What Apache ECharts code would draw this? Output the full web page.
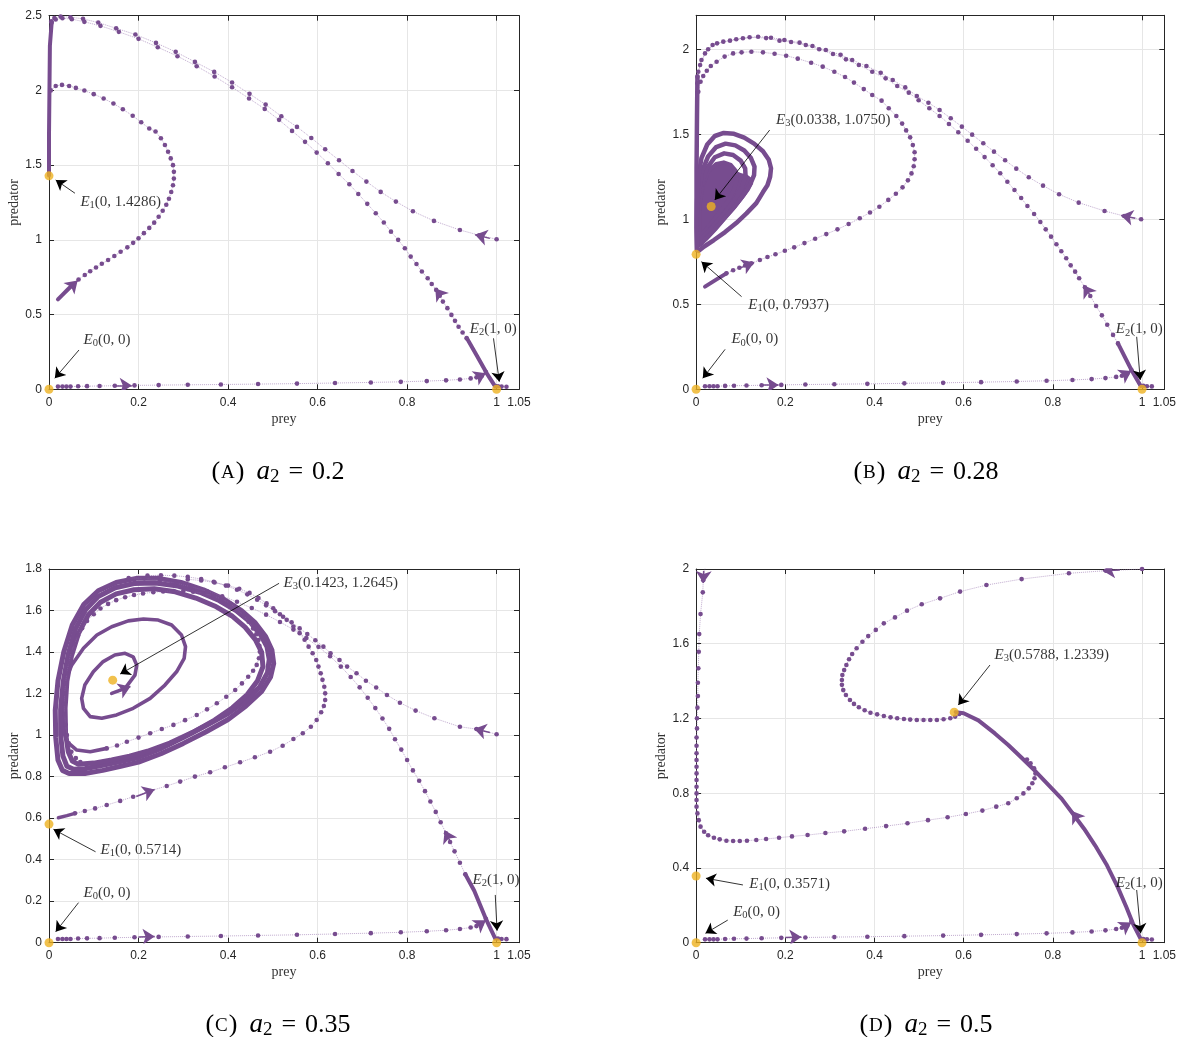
<!DOCTYPE html>
<html><head><meta charset="utf-8">
<script src="https://cdn.jsdelivr.net/npm/echarts@6/dist/echarts.min.js"></script>
<style>html,body{margin:0;padding:0;background:#fff}#c{width:1179px;height:1037px}</style>
</head><body><div id="c"></div>
<script>
// ---------------- DATA ----------------
const xTicks = [0, 0.2, 0.4, 0.6, 0.8, 1, 1.05];
const yMax = [2.5, 2.2, 1.8, 2];
const yStep = [0.5, 0.5, 0.2, 0.4];
const panelTitles = [['A', '0.2'], ['B', '0.28'], ['C', '0.35'], ['D', '0.5']];

// shared: near x-axis trajectory from (0.02,0.02) toward E2
const bottomTraj = [[0.020,0.018],[0.030,0.018],[0.039,0.018],[0.048,0.018],[0.065,0.020],[0.085,0.021],[0.113,0.022],[0.147,0.024],[0.191,0.026],[0.245,0.028],[0.310,0.030],[0.384,0.032],[0.467,0.035],[0.554,0.038],[0.639,0.042],[0.719,0.046],[0.786,0.050],[0.844,0.055],[0.887,0.060],[0.918,0.066],[0.942,0.073],[0.955,0.080],[0.967,0.091],[0.976,0.115]];
const e2Right = [[1.022,0.017],[1.011,0.018],[1.003,0.020]];

// equilibria
const eqA = [[0,0],[0,1.4286],[1,0]];
const eqB = [[0,0],[0,0.7937],[1,0],[0.0338,1.0750]];
const eqC = [[0,0],[0,0.5714],[1,0],[0.1423,1.2645]];
const eqD = [[0,0],[0,0.3571],[1,0],[0.5788,1.2339]];

// ---- panel A ----
const A_outer = [[1.0,1.004],[0.961,1.031],[0.918,1.066],[0.860,1.127],[0.813,1.191],[0.775,1.256],[0.741,1.321],[0.709,1.390],[0.678,1.461],[0.648,1.533],[0.617,1.606],[0.586,1.682],[0.554,1.756],[0.519,1.827],[0.484,1.905],[0.448,1.977],[0.409,2.053],[0.369,2.124],[0.326,2.191],[0.283,2.258],[0.239,2.318],[0.193,2.374],[0.150,2.416],[0.110,2.454],[0.076,2.479],[0.048,2.490],[0.026,2.494],[0.012,2.485],[0.005,2.462]];
const A_manThick = [[0.997,0.018],[0.978,0.107],[0.955,0.230],[0.933,0.345]];
const A_manifold = [[0.933,0.341],[0.924,0.380],[0.915,0.419],[0.907,0.458],[0.899,0.498],[0.890,0.543],[0.880,0.587],[0.873,0.626],[0.865,0.665],[0.855,0.705],[0.846,0.743],[0.833,0.788],[0.821,0.838],[0.808,0.888],[0.795,0.944],[0.780,1.000],[0.764,1.055],[0.748,1.116],[0.730,1.178],[0.711,1.241],[0.691,1.307],[0.671,1.372],[0.647,1.441],[0.623,1.513],[0.598,1.584],[0.572,1.656],[0.543,1.729],[0.514,1.803],[0.482,1.876],[0.447,1.946],[0.409,2.021],[0.370,2.093],[0.330,2.162],[0.287,2.229],[0.243,2.289],[0.200,2.345],[0.156,2.392],[0.115,2.432],[0.079,2.459],[0.051,2.477],[0.030,2.483],[0.015,2.475],[0.006,2.455]];
const A_innerThick = [[0.020,0.602],[0.030,0.632],[0.042,0.668],[0.053,0.700]];
const A_inner = [[0.053,0.700],[0.066,0.735],[0.080,0.765],[0.092,0.790],[0.105,0.815],[0.118,0.840],[0.132,0.865],[0.146,0.892],[0.160,0.920],[0.175,0.950],[0.188,0.980],[0.200,1.010],[0.212,1.045],[0.224,1.080],[0.235,1.115],[0.245,1.155],[0.254,1.195],[0.262,1.235],[0.268,1.275],[0.273,1.320],[0.277,1.365],[0.279,1.410],[0.279,1.455],[0.277,1.500],[0.272,1.545],[0.266,1.590],[0.259,1.635],[0.250,1.680],[0.238,1.725],[0.224,1.745],[0.206,1.787],[0.187,1.830],[0.165,1.874],[0.144,1.912],[0.122,1.946],[0.100,1.975],[0.079,1.999],[0.060,2.017],[0.045,2.030],[0.029,2.037],[0.015,2.030],[0.004,2.000]];
const A_axisThick = [[0.006,2.455],[0.002,2.30],[0.001,2.00],[0.0,1.70],[0.0,1.43]];

// ---- panel B ----
const B_outer = [[0.998,1.000],[0.960,1.019],[0.916,1.049],[0.858,1.098],[0.814,1.147],[0.778,1.198],[0.746,1.247],[0.718,1.298],[0.693,1.347],[0.668,1.398],[0.644,1.447],[0.619,1.498],[0.596,1.545],[0.571,1.594],[0.546,1.643],[0.521,1.686],[0.495,1.725],[0.469,1.776],[0.441,1.819],[0.414,1.862],[0.382,1.902],[0.350,1.937],[0.324,1.968],[0.291,1.996],[0.261,2.019],[0.232,2.039],[0.198,2.055],[0.168,2.068],[0.139,2.074],[0.105,2.065],[0.076,2.051],[0.047,2.035],[0.027,2.000],[0.012,1.937],[0.005,1.868],[0.003,1.800]];
const B_manThick = [[0.997,0.020],[0.975,0.120],[0.946,0.270]];
const B_manifold = [[0.946,0.270],[0.935,0.320],[0.922,0.380],[0.910,0.435],[0.897,0.490],[0.884,0.549],[0.872,0.600],[0.859,0.653],[0.850,0.692],[0.840,0.729],[0.830,0.771],[0.819,0.812],[0.808,0.853],[0.796,0.898],[0.784,0.941],[0.772,0.984],[0.758,1.031],[0.743,1.078],[0.729,1.125],[0.714,1.172],[0.698,1.221],[0.682,1.271],[0.665,1.318],[0.647,1.366],[0.628,1.415],[0.609,1.462],[0.588,1.512],[0.567,1.561],[0.546,1.608],[0.523,1.653],[0.499,1.700],[0.477,1.745],[0.451,1.784],[0.425,1.829],[0.395,1.868],[0.365,1.908],[0.336,1.941],[0.307,1.972],[0.276,2.000],[0.246,2.025],[0.213,2.043],[0.187,2.051],[0.157,2.066],[0.120,2.071],[0.090,2.059],[0.061,2.045],[0.037,2.025],[0.020,1.976],[0.009,1.908],[0.003,1.839]];
const B_innerThick = [[0.020,0.604],[0.045,0.645],[0.068,0.682]];
const B_inner = [[0.068,0.682],[0.083,0.700],[0.097,0.715],[0.110,0.728],[0.124,0.741],[0.143,0.761],[0.160,0.778],[0.178,0.794],[0.199,0.815],[0.220,0.835],[0.243,0.860],[0.267,0.886],[0.292,0.913],[0.317,0.941],[0.342,0.972],[0.367,1.006],[0.390,1.040],[0.411,1.074],[0.431,1.114],[0.448,1.150],[0.463,1.188],[0.475,1.229],[0.483,1.270],[0.488,1.312],[0.490,1.353],[0.490,1.394],[0.486,1.437],[0.480,1.482],[0.471,1.523],[0.462,1.563],[0.449,1.608],[0.432,1.653],[0.416,1.698],[0.395,1.731],[0.376,1.766],[0.354,1.804],[0.334,1.837],[0.310,1.868],[0.284,1.898],[0.258,1.921],[0.228,1.945],[0.202,1.962],[0.176,1.974],[0.150,1.982],[0.124,1.986],[0.102,1.982],[0.083,1.976],[0.064,1.957],[0.046,1.927],[0.033,1.902],[0.024,1.874],[0.016,1.843],[0.010,1.809],[0.005,1.750]];
const B_axisThick = [[0.003,1.84],[0.002,1.60],[0.001,1.30],[0.001,1.00],[0.002,0.82]];
const B_loop1 = [[0.002,0.820],[0.001,0.950],[0.002,1.100],[0.005,1.250],[0.012,1.360],[0.025,1.440],[0.042,1.490],[0.062,1.508],[0.085,1.503],[0.108,1.480],[0.130,1.445],[0.150,1.400],[0.163,1.350],[0.168,1.300],[0.166,1.250],[0.160,1.200],[0.150,1.160],[0.135,1.095],[0.113,1.035],[0.090,0.978],[0.065,0.925],[0.040,0.878],[0.018,0.840],[0.006,0.815]];
const B_loop2 = [[0.004,0.850],[0.003,1.000],[0.006,1.150],[0.013,1.280],[0.027,1.370],[0.045,1.425],[0.066,1.445],[0.088,1.435],[0.108,1.405],[0.123,1.360],[0.131,1.310],[0.130,1.260],[0.122,1.210],[0.108,1.150],[0.088,1.080],[0.065,1.010],[0.042,0.940],[0.022,0.885],[0.008,0.850]];
const B_loop3 = [[0.006,0.880],[0.006,1.050],[0.012,1.200],[0.024,1.300],[0.042,1.365],[0.063,1.388],[0.083,1.378],[0.100,1.345],[0.110,1.300],[0.111,1.250],[0.103,1.190],[0.088,1.120],[0.068,1.050],[0.045,0.980],[0.024,0.915],[0.010,0.880]];
const B_loop4 = [[0.008,0.900],[0.008,1.080],[0.015,1.200],[0.028,1.285],[0.045,1.325],[0.062,1.335],[0.078,1.320],[0.089,1.285],[0.092,1.240],[0.086,1.180],[0.072,1.110],[0.052,1.040],[0.032,0.970],[0.016,0.920],[0.008,0.900]];
const B_fill = [[0.003,0.830],[0.004,1.050],[0.008,1.200],[0.015,1.270],[0.028,1.310],[0.045,1.330],[0.062,1.335],[0.078,1.320],[0.089,1.285],[0.100,1.272],[0.115,1.262],[0.126,1.240],[0.128,1.210],[0.120,1.170],[0.106,1.120],[0.086,1.055],[0.064,0.990],[0.042,0.925],[0.022,0.872],[0.008,0.840]];

// ---- panel C ----
const C_outer = [[1.000,1.004],[0.955,1.029],[0.918,1.040],[0.861,1.081],[0.819,1.118],[0.784,1.156],[0.755,1.193],[0.731,1.229],[0.708,1.262],[0.687,1.298],[0.666,1.330],[0.649,1.362],[0.629,1.394],[0.613,1.426],[0.595,1.457],[0.577,1.487],[0.560,1.514],[0.542,1.543],[0.523,1.570],[0.505,1.597],[0.485,1.625],[0.465,1.652],[0.443,1.678],[0.420,1.700],[0.395,1.720],[0.368,1.738],[0.340,1.752],[0.310,1.762],[0.280,1.768],[0.250,1.770],[0.220,1.768]];
const C_manThick = [[0.997,0.020],[0.975,0.120],[0.950,0.250],[0.930,0.330]];
const C_manifold = [[0.930,0.330],[0.918,0.385],[0.906,0.440],[0.896,0.485],[0.887,0.527],[0.875,0.580],[0.864,0.630],[0.852,0.680],[0.840,0.730],[0.827,0.780],[0.813,0.830],[0.800,0.880],[0.787,0.930],[0.773,0.980],[0.760,1.030],[0.745,1.080],[0.729,1.130],[0.712,1.180],[0.694,1.230],[0.674,1.280],[0.652,1.330],[0.628,1.380],[0.602,1.425],[0.575,1.468],[0.546,1.508],[0.516,1.545],[0.485,1.580],[0.453,1.612],[0.420,1.642],[0.387,1.669],[0.353,1.693],[0.318,1.714],[0.283,1.732],[0.248,1.746],[0.213,1.755],[0.178,1.757]];
const C_midThick = [[0.021,0.602],[0.040,0.612],[0.058,0.623]];
const C_mid = [[0.058,0.623],[0.080,0.634],[0.103,0.647],[0.129,0.663],[0.159,0.683],[0.188,0.703],[0.226,0.731],[0.263,0.755],[0.293,0.776],[0.326,0.800],[0.360,0.821],[0.393,0.845],[0.427,0.869],[0.460,0.893],[0.494,0.920],[0.522,0.949],[0.546,0.981],[0.567,1.009],[0.585,1.040],[0.598,1.073],[0.608,1.110],[0.614,1.140],[0.617,1.169],[0.617,1.201],[0.615,1.233],[0.611,1.266],[0.607,1.298],[0.602,1.330],[0.597,1.362],[0.589,1.394],[0.580,1.426],[0.571,1.459],[0.560,1.491],[0.546,1.523],[0.531,1.555],[0.516,1.582],[0.501,1.611],[0.486,1.635],[0.468,1.660],[0.448,1.685],[0.425,1.705],[0.400,1.720],[0.370,1.735],[0.340,1.745],[0.310,1.750]];
const C_spiralThick = [[0.140,1.201],[0.170,1.225],[0.192,1.289],[0.196,1.337],[0.188,1.377],[0.170,1.394],[0.147,1.386],[0.121,1.354],[0.099,1.305],[0.080,1.241],[0.073,1.177],[0.077,1.129],[0.092,1.089],[0.118,1.081],[0.151,1.097],[0.188,1.129],[0.226,1.177],[0.259,1.241],[0.285,1.305],[0.302,1.370],[0.305,1.426],[0.296,1.482],[0.274,1.530],[0.244,1.554],[0.211,1.559],[0.177,1.550],[0.140,1.522],[0.107,1.482],[0.077,1.418],[0.051,1.338],[0.032,1.241],[0.026,1.145],[0.028,1.049],[0.040,0.968],[0.062,0.928],[0.092,0.920],[0.129,0.936]];
const C_spiralDots = [[0.129,0.936],[0.152,0.950],[0.174,0.968],[0.200,0.988],[0.226,1.009],[0.252,1.029],[0.278,1.049],[0.304,1.072],[0.330,1.097],[0.353,1.124],[0.375,1.153],[0.396,1.185],[0.416,1.217],[0.431,1.249],[0.445,1.281],[0.456,1.310],[0.464,1.338],[0.469,1.370],[0.471,1.402],[0.470,1.430],[0.468,1.458],[0.463,1.486],[0.456,1.514],[0.446,1.546],[0.434,1.578],[0.420,1.607],[0.404,1.635],[0.386,1.655],[0.367,1.671],[0.345,1.683],[0.322,1.691],[0.300,1.694],[0.278,1.694],[0.255,1.692],[0.233,1.688],[0.210,1.682],[0.190,1.675],[0.170,1.664],[0.150,1.650],[0.132,1.632],[0.115,1.610],[0.100,1.582],[0.085,1.550],[0.074,1.515],[0.065,1.480],[0.057,1.440],[0.050,1.400],[0.044,1.350],[0.040,1.300],[0.037,1.250],[0.035,1.200],[0.034,1.150],[0.035,1.100],[0.037,1.050],[0.040,1.000],[0.044,0.960],[0.050,0.920],[0.060,0.890],[0.070,0.870]];
const C_bandOuter = [[0.045,0.815],[0.080,0.815],[0.120,0.830],[0.160,0.850],[0.200,0.870],[0.250,0.910],[0.300,0.960],[0.350,1.015],[0.400,1.075],[0.440,1.140],[0.475,1.210],[0.495,1.280],[0.502,1.345],[0.498,1.410],[0.484,1.475],[0.461,1.540],[0.430,1.600],[0.390,1.655],[0.345,1.700],[0.295,1.735],[0.245,1.755],[0.195,1.755],[0.150,1.735],[0.110,1.695],[0.078,1.630],[0.052,1.530],[0.033,1.400],[0.020,1.260],[0.014,1.120],[0.015,0.990],[0.020,0.880],[0.030,0.830],[0.045,0.815]];
const C_bandMid = [[0.055,0.835],[0.080,0.838],[0.120,0.855],[0.160,0.872],[0.200,0.892],[0.250,0.935],[0.300,0.988],[0.350,1.045],[0.400,1.104],[0.440,1.165],[0.470,1.230],[0.488,1.300],[0.492,1.365],[0.487,1.425],[0.472,1.485],[0.449,1.545],[0.418,1.600],[0.380,1.648],[0.337,1.688],[0.288,1.718],[0.238,1.732],[0.190,1.730],[0.148,1.710],[0.110,1.668],[0.082,1.605],[0.059,1.510],[0.043,1.390],[0.032,1.260],[0.026,1.125],[0.026,1.000],[0.031,0.900],[0.040,0.850],[0.055,0.835]];
const C_bandInner = [[0.065,0.860],[0.100,0.865],[0.140,0.880],[0.180,0.898],[0.220,0.922],[0.270,0.962],[0.320,1.012],[0.370,1.072],[0.410,1.132],[0.443,1.195],[0.466,1.262],[0.478,1.330],[0.475,1.400],[0.461,1.460],[0.438,1.520],[0.408,1.575],[0.370,1.622],[0.328,1.660],[0.282,1.690],[0.235,1.705],[0.190,1.700],[0.150,1.680],[0.115,1.640],[0.088,1.580],[0.066,1.490],[0.050,1.380],[0.040,1.260],[0.036,1.130],[0.037,1.010],[0.043,0.920],[0.052,0.875],[0.065,0.860]];

// ---- panel D ----
const D_top = [[1.000,2.000],[0.919,1.991],[0.836,1.977],[0.730,1.946],[0.651,1.914],[0.592,1.879],[0.547,1.843],[0.506,1.811],[0.473,1.777],[0.446,1.741],[0.421,1.709],[0.403,1.674],[0.386,1.641],[0.373,1.611],[0.360,1.576],[0.350,1.545],[0.343,1.517],[0.337,1.486],[0.332,1.459],[0.328,1.433],[0.327,1.406],[0.327,1.380],[0.330,1.352],[0.336,1.326],[0.345,1.299],[0.354,1.278],[0.365,1.260],[0.378,1.244],[0.391,1.231],[0.406,1.222],[0.421,1.213],[0.436,1.206],[0.451,1.201],[0.466,1.197],[0.480,1.194],[0.495,1.192],[0.510,1.192],[0.525,1.192],[0.540,1.192],[0.555,1.196],[0.570,1.201],[0.581,1.210],[0.590,1.224]];
const D_left = [[0.020,2.003],[0.016,1.940],[0.015,1.875],[0.010,1.759],[0.007,1.652],[0.006,1.557],[0.005,1.469],[0.004,1.391],[0.004,1.320],[0.003,1.258],[0.002,1.201],[0.002,1.147],[0.001,1.098],[0.001,1.054],[0.001,1.014],[0.001,0.978],[0.001,0.942],[0.001,0.906],[0.001,0.871],[0.001,0.835],[0.001,0.799],[0.001,0.764],[0.001,0.728],[0.003,0.692],[0.006,0.656],[0.010,0.621],[0.018,0.594],[0.027,0.575],[0.040,0.562],[0.053,0.553],[0.068,0.546],[0.083,0.544],[0.098,0.544],[0.114,0.546],[0.135,0.550],[0.157,0.555],[0.186,0.562],[0.215,0.569],[0.250,0.576],[0.290,0.587],[0.332,0.596],[0.379,0.610],[0.426,0.624],[0.474,0.639],[0.520,0.656],[0.564,0.671],[0.605,0.689],[0.642,0.707],[0.673,0.728],[0.700,0.746],[0.719,0.773],[0.734,0.799],[0.746,0.826],[0.754,0.853],[0.759,0.880],[0.761,0.906],[0.758,0.933],[0.750,0.960],[0.742,0.980]];
const D_manifold = [[0.997,0.020],[0.980,0.100],[0.965,0.190],[0.945,0.300],[0.920,0.420],[0.895,0.520],[0.870,0.610],[0.845,0.690],[0.820,0.770],[0.790,0.845],[0.760,0.920],[0.730,0.990],[0.700,1.058],[0.670,1.120],[0.633,1.190],[0.600,1.228],[0.582,1.234]];

// annotation arrows (tail -> head) and label anchors
const annA = [[[0.058,1.312],[0.015,1.401]],[[0.067,0.263],[0.013,0.074]],[[0.993,0.341],[1.006,0.051]]];
const annB = [[[0.165,1.525],[0.042,1.114]],[[0.102,0.545],[0.012,0.751]],[[0.065,0.235],[0.015,0.065]],[[0.988,0.309],[0.996,0.055]]];
const annC = [[[0.514,1.731],[0.159,1.294]],[[0.104,0.438],[0.010,0.546]],[[0.066,0.193],[0.015,0.053]],[[0.997,0.230],[1.001,0.058]]];
const annD = [[[0.659,1.486],[0.588,1.272]],[[0.105,0.309],[0.022,0.345]],[[0.071,0.121],[0.021,0.050]],[[0.988,0.282],[0.997,0.050]]];
const labA = [[0.069,1.255,'1','(0, 1.4286)'],[0.076,0.330,'0','(0, 0)'],[0.939,0.404,'2','(1, 0)']];
const labB = [[0.178,1.584,'3','(0.0338, 1.0750)'],[0.116,0.496,'1','(0, 0.7937)'],[0.078,0.294,'0','(0, 0)'],[0.940,0.353,'2','(1, 0)']];
const labC = [[0.523,1.734,'3','(0.1423, 1.2645)'],[0.114,0.447,'1','(0, 0.5714)'],[0.076,0.241,'0','(0, 0)'],[0.945,0.302,'2','(1, 0)']];
const labD = [[0.668,1.540,'3','(0.5788, 1.2339)'],[0.118,0.313,'1','(0, 0.3571)'],[0.082,0.166,'0','(0, 0)'],[0.940,0.321,'2','(1, 0)']];

// direction arrows on trajectories (tail -> head)
const dirA = [[[0.150,0.024],[0.185,0.026]],[[0.030,0.632],[0.064,0.728]],[[0.876,0.625],[0.863,0.675]],[[0.985,1.010],[0.952,1.034]],[[0.958,0.082],[0.976,0.108]]];
const dirB = [[[0.150,0.024],[0.185,0.026]],[[0.095,0.710],[0.130,0.746]],[[0.882,0.560],[0.869,0.612]],[[0.985,1.006],[0.953,1.023]],[[0.958,0.082],[0.976,0.108]]];
const dirC = [[[0.200,0.028],[0.236,0.030]],[[0.195,0.704],[0.236,0.738]],[[0.150,1.206],[0.182,1.234]],[[0.896,0.490],[0.884,0.540]],[[0.985,1.012],[0.950,1.031]],[[0.958,0.082],[0.976,0.108]]];
const dirD = [[[0.200,0.028],[0.236,0.030]],[[0.017,1.990],[0.016,1.925]],[[0.950,1.995],[0.912,1.990]],[[0.856,0.660],[0.843,0.705]],[[0.958,0.082],[0.976,0.108]]];

// ---------------- STYLE / BUILD ----------------
const PURPLE = '#774c8f', DOTLINE = 'rgba(140,100,165,0.55)', ORANGE = '#edb120', AX = '#262626', GRIDC = '#e6e6e6';
const SERIF = "'Liberation Serif','DejaVu Serif',serif", SANS = "'Liberation Sans',Arial,sans-serif";
const gridPos = [
  {left:49, top:15.7, width:470, height:373.6},
  {left:696.1, top:15.3, width:471.1, height:374},
  {left:49, top:569, width:470, height:373.7},
  {left:696.1, top:569, width:471.1, height:373.7}];

const base = (g) => ({xAxisIndex:2*g, yAxisIndex:2*g, silent:true, animation:false});
function dots(data, g){ return Object.assign(base(g), {type:'line', data, symbol:'circle', symbolSize:4.6, itemStyle:{color:PURPLE}, lineStyle:{color:DOTLINE, width:1, type:'dotted'}, z:3}); }
function thick(data, g, w){ return Object.assign(base(g), {type:'line', data, symbol:'none', lineStyle:{color:PURPLE, width:w||4, cap:'round', join:'round'}, z:3}); }
function arrows(segs, g, color, size, width){ return Object.assign(base(g), {type:'lines', coordinateSystem:'cartesian2d', polyline:false, symbol:['none','arrow'], symbolSize:size, lineStyle:{color, width, opacity:1, curveness:0}, data:segs.map(s=>({coords:s})), z:6}); }
function eqs(data, g){ return Object.assign(base(g), {type:'scatter', data, symbol:'circle', symbolSize:9, itemStyle:{color:ORANGE}, z:8}); }
const mathRich = {
  e:{fontFamily:SERIF, fontStyle:'italic', fontSize:15, color:'#000', lineHeight:18, verticalAlign:'middle'},
  s:{fontFamily:SERIF, fontSize:10.5, color:'#000', lineHeight:10, verticalAlign:'bottom'},
  n:{fontFamily:SERIF, fontSize:15, color:'#000', lineHeight:18, verticalAlign:'middle'}};
function labels(list, g){
  return Object.assign(base(g), {type:'scatter', symbolSize:1, itemStyle:{color:'rgba(0,0,0,0)'}, z:9,
    data:list.map(l=>({value:[l[0],l[1]], s:l[2], n:l[3]})),
    label:{show:true, position:'right', distance:0, formatter:(p)=>'{e|E}{s|'+p.data.s+'}{n|'+p.data.n+'}', rich:mathRich}});
}
function poly(pts, g){ return Object.assign(base(g), {type:'custom', coordinateSystem:'cartesian2d', data:[[0,0]], z:3,
  renderItem:(params, api)=>({type:'polygon', shape:{points:pts.map(p=>api.coord(p))}, style:{fill:PURPLE}})}); }

const xAxes = [], yAxes = [];
for (let g=0; g<4; g++){
  const line = {show:true, onZero:false, lineStyle:{color:AX, width:1}};
  const tick = {show:true, inside:true, length:5, lineStyle:{color:AX, width:1}};
  xAxes.push({gridIndex:g, type:'value', min:0, max:1.05, interval:0.2, position:'bottom', axisLine:line, axisTick:tick,
    axisLabel:{color:AX, fontSize:12, fontFamily:SANS, margin:7, formatter:(v)=>String(+v.toFixed(2))},
    splitLine:{show:true, lineStyle:{color:GRIDC, width:1}},
    name:'prey', nameLocation:'middle', nameGap:23, nameTextStyle:{fontFamily:SERIF, fontSize:14, color:'#333'}});
  xAxes.push({gridIndex:g, type:'value', min:0, max:1.05, interval:0.2, position:'top', axisLine:line, axisTick:tick, axisLabel:{show:false}, splitLine:{show:false}});
  yAxes.push({gridIndex:g, type:'value', min:0, max:yMax[g], interval:yStep[g], position:'left', axisLine:line, axisTick:tick,
    axisLabel:{color:AX, fontSize:12, fontFamily:SANS, margin:7, formatter:(v)=> (v > yMax[g]-1e-9 && g===1) ? '' : String(+v.toFixed(2))},
    splitLine:{show:true, lineStyle:{color:GRIDC, width:1}},
    name:'predator', nameLocation:'middle', nameGap:26, nameRotate:90, nameTextStyle:{fontFamily:SERIF, fontSize:14, color:'#333'}});
  yAxes.push({gridIndex:g, type:'value', min:0, max:yMax[g], interval:yStep[g], position:'right', axisLine:line, axisTick:tick, axisLabel:{show:false}, splitLine:{show:false}});
}

const series = [];
for (let g=0; g<4; g++){ series.push(dots(bottomTraj, g), dots(e2Right, g)); }
// A
series.push(dots(A_outer,0), thick(A_manThick,0), dots(A_manifold,0), thick(A_innerThick,0), dots(A_inner,0), thick(A_axisThick,0));
// B
series.push(poly(B_fill,1), thick(B_loop4,1,4), thick(B_loop3,1,4.5), thick(B_loop2,1,4.5), thick(B_loop1,1,4.5), thick(B_axisThick,1,4.5),
  dots(B_outer,1), thick(B_manThick,1), dots(B_manifold,1), thick(B_innerThick,1), dots(B_inner,1));
// C
series.push(thick(C_bandOuter,2,5), thick(C_bandMid,2,5), thick(C_bandInner,2,5), thick(C_spiralThick,2,3.6), dots(C_spiralDots,2),
  dots(C_outer,2), thick(C_manThick,2), dots(C_manifold,2), thick(C_midThick,2,3.5), dots(C_mid,2));
// D
series.push(dots(D_top,3), dots(D_left,3), thick(D_manifold,3,4));

const dirs = [dirA, dirB, dirC, dirD], anns = [annA, annB, annC, annD], labs = [labA, labB, labC, labD], eqList = [eqA, eqB, eqC, eqD];
for (let g=0; g<4; g++){
  series.push(arrows(dirs[g], g, PURPLE, [10,12], 1.5));
  series.push(arrows(anns[g], g, '#000', [8,10], 0.8));
  series.push(eqs(eqList[g], g));
  series.push(labels(labs[g], g));
}

const titleRich = {
  p:{fontFamily:SERIF, fontSize:26, fontWeight:'normal', color:'#000', lineHeight:30, verticalAlign:'middle'},
  sc:{fontFamily:SERIF, fontSize:19, fontWeight:'normal', color:'#000', lineHeight:30, verticalAlign:'middle', padding:[3,1,0,1]},
  it:{fontFamily:SERIF, fontSize:27, fontWeight:'normal', fontStyle:'italic', color:'#000', lineHeight:30, verticalAlign:'middle', padding:[0,0,0,12]},
  sub:{fontFamily:SERIF, fontSize:19, fontWeight:'normal', color:'#000', lineHeight:14, verticalAlign:'bottom'},
  eq:{fontFamily:SERIF, fontSize:26, fontWeight:'normal', color:'#000', lineHeight:30, verticalAlign:'middle', padding:[0,9,0,9]}};
const titleCenters = [[273,471],[921,471],[273,1024],[921,1024]];
const titles = panelTitles.map((t,i)=>({text:'{p|(}{sc|'+t[0]+'}{p|)}{it|a}{sub|2}{eq|=}{p|'+t[1]+'}', left:titleCenters[i][0], top:titleCenters[i][1]-19, textAlign:'center', textStyle:{fontWeight:'normal', rich:titleRich}}));

const chart = echarts.init(document.getElementById('c'), null, {renderer:'canvas'});
chart.setOption({animation:false, backgroundColor:'#fff', title:titles, grid:gridPos, xAxis:xAxes, yAxis:yAxes, series});
</script></body></html>
